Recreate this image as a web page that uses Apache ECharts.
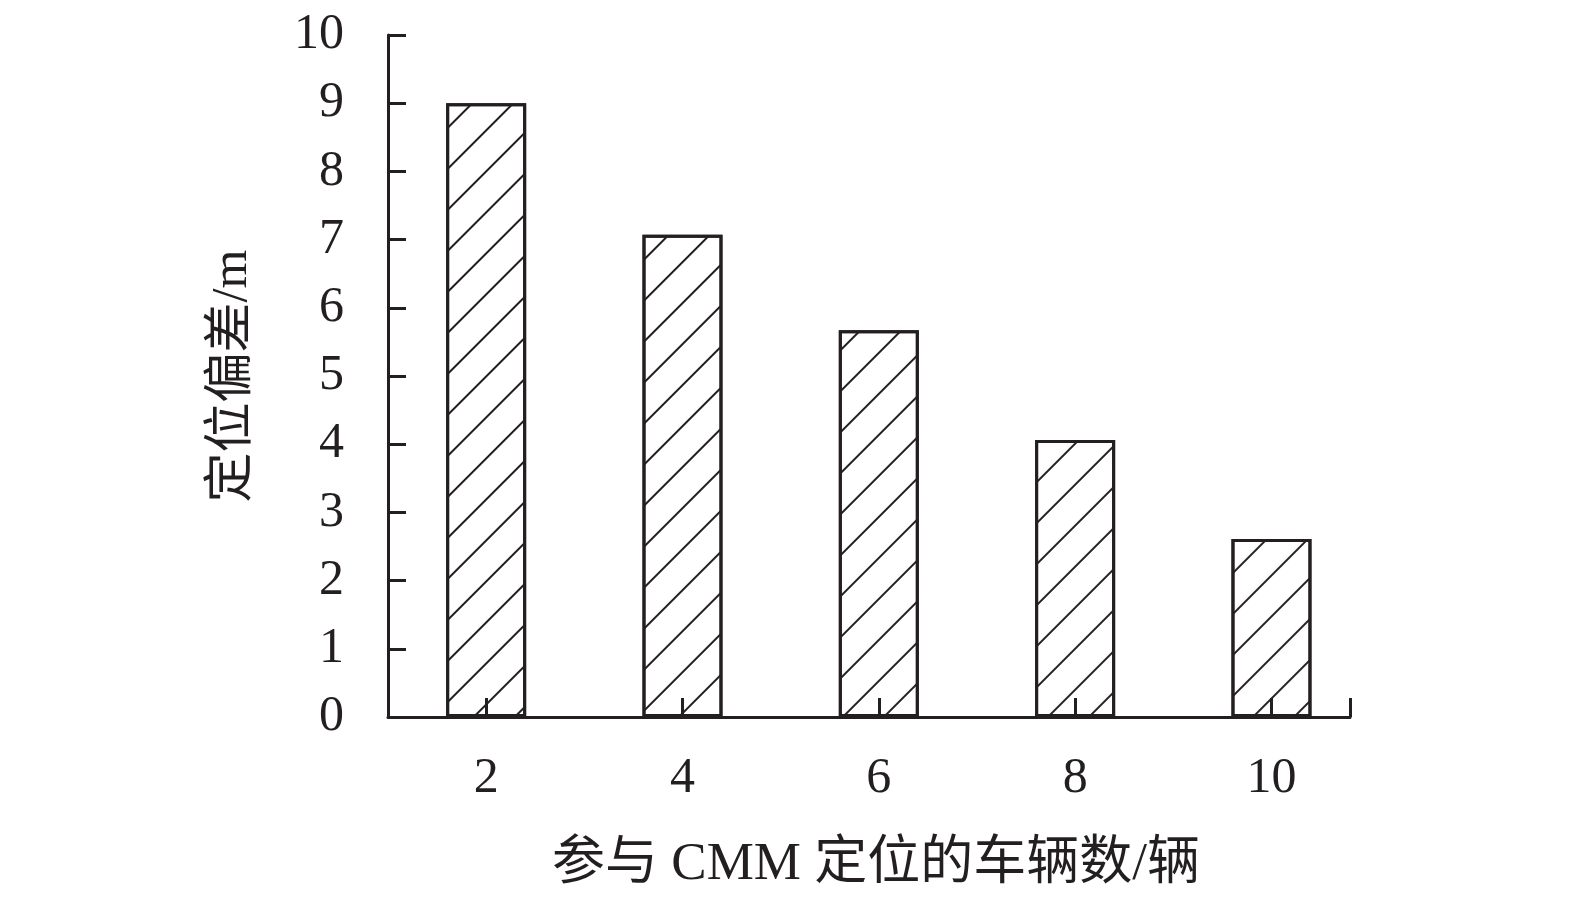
<!DOCTYPE html>
<html>
<head>
<meta charset="utf-8">
<script src="https://cdn.jsdelivr.net/npm/echarts@6/dist/echarts.min.js"></script>
<style>html,body{margin:0;padding:0;background:#fff}#c{width:1575px;height:898px}</style>
</head>
<body>
<div id="c"></div>
<script>
const vehicleCounts = [2, 4, 6, 8, 10];
const positionError = [9.0, 7.07, 5.67, 4.06, 2.61];
const xTickValues = [2, 4, 6, 8, 10, 10.8];
const xLabelValues = [2, 4, 6, 8, 10];
const xTitle = '参与 CMM 定位的车辆数/辆';
const yTitle = '定位偏差/m';

const ink = '#231f20';
const serif = '"Liberation Serif", "Noto Sans CJK SC", serif';

const chart = echarts.init(document.getElementById('c'), null, {renderer: 'canvas'});
chart.setOption({
  animation: false,
  backgroundColor: '#fff',
  grid: {left: 388, top: 35, width: 962, height: 682},
  xAxis: {
    type: 'value', min: 1, max: 10.8, z: 5,
    axisLine: {show: true, lineStyle: {color: ink, width: 3}},
    axisTick: {show: true, inside: true, length: 19, lineStyle: {color: ink, width: 3}, customValues: xTickValues},
    axisLabel: {color: ink, fontFamily: serif, fontSize: 50, margin: 37, customValues: xLabelValues},
    splitLine: {show: false},
    name: xTitle, nameLocation: 'middle', nameGap: 122,
    nameTextStyle: {color: ink, fontFamily: serif, fontSize: 53, padding: [0, 0, 0, 14]}
  },
  yAxis: {
    type: 'value', min: 0, max: 10, interval: 1, z: 5,
    axisLine: {show: true, lineStyle: {color: ink, width: 3}},
    axisTick: {show: true, inside: true, length: 18, lineStyle: {color: ink, width: 3}},
    axisLabel: {color: ink, fontFamily: serif, fontSize: 50, margin: 44},
    splitLine: {show: false},
    name: yTitle, nameLocation: 'middle', nameGap: 130,
    nameTextStyle: {color: ink, fontFamily: serif, fontSize: 50}
  },
  series: [{
    type: 'bar',
    barWidth: 80,
    z: 2,
    data: vehicleCounts.map((v, i) => [v, positionError[i]]),
    itemStyle: {
      color: '#fff', borderColor: ink, borderWidth: 3,
      decal: {symbol: 'rect', symbolSize: 1, color: ink, dashArrayX: [1, 0], dashArrayY: [2, 27], rotation: -Math.PI / 4}
    }
  }]
});
</script>
</body>
</html>
